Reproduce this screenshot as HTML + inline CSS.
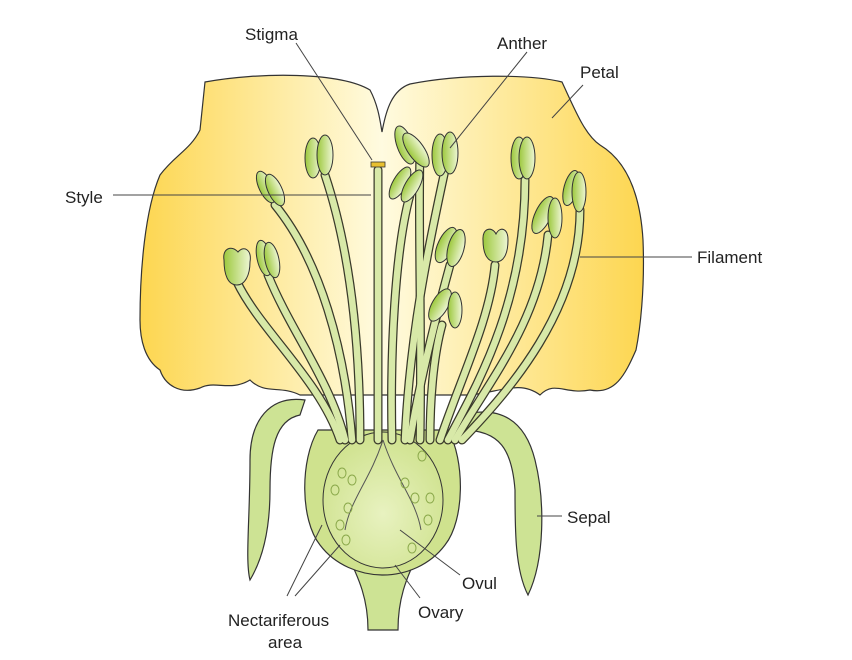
<!DOCTYPE html>
<html><head><meta charset="utf-8"><style>
html,body{margin:0;padding:0;background:#fff}
svg{display:block}
text{font-family:"Liberation Sans",sans-serif;font-size:17px;fill:#222}
</style></head><body>
<svg width="852" height="660" viewBox="0 0 852 660" xmlns="http://www.w3.org/2000/svg">
<defs>
<linearGradient id="pet" x1="0" x2="1" y1="0" y2="0">
<stop offset="0" stop-color="#fdd650"/><stop offset="0.48" stop-color="#fffbe0"/><stop offset="1" stop-color="#fdd650"/>
</linearGradient>
<linearGradient id="anth" x1="0" x2="1"><stop offset="0" stop-color="#9cc83c"/><stop offset="1" stop-color="#eef6d4"/></linearGradient>
<radialGradient id="ov" cx="0.5" cy="0.6" r="0.6"><stop offset="0" stop-color="#e8f2c0"/><stop offset="1" stop-color="#cfe28e"/></radialGradient>
</defs>
<!-- petals -->
<path d="M205,82 C260,72 340,72 370,90 C378,105 380,120 382,132 C386,110 392,90 410,84 C460,74 530,74 562,82 C575,110 585,135 600,145 C625,160 640,190 643,240 C645,290 640,330 636,350 C625,375 615,395 590,390 C565,395 555,380 540,395 C520,380 500,392 470,395 L300,395 C280,385 265,395 250,380 C230,392 215,380 200,388 C180,395 165,385 160,370 C145,360 140,340 140,320 C140,270 145,210 160,175 C175,155 190,150 200,130 Z" fill="url(#pet)" stroke="#333" stroke-width="1.2"/>
<!-- sepals -->
<path d="M305,400 C270,395 250,420 250,460 C250,520 245,560 250,580 C262,560 270,530 270,490 C270,450 275,420 300,415 Z" fill="#cde394" stroke="#333" stroke-width="1.2"/>
<path d="M462,415 C500,405 525,420 535,460 C545,500 545,560 528,595 C515,570 515,530 515,490 C512,450 500,430 462,430 Z" fill="#cde394" stroke="#333" stroke-width="1.2"/>
<!-- stem -->
<path d="M345,550 C360,580 368,600 368,630 L398,630 C398,600 405,580 420,550 Z" fill="#cde394" stroke="#333" stroke-width="1.2"/>
<!-- receptacle -->
<path d="M318,430 C300,460 300,520 320,545 C335,565 360,575 383,575 C406,575 430,565 445,545 C465,520 465,460 448,430 Z" fill="#cfe28e" stroke="#333" stroke-width="1.2"/>
<ellipse cx="383" cy="500" rx="60" ry="68" fill="url(#ov)" stroke="#333" stroke-width="1"/>
<path d="M383,440 C370,480 350,500 345,530 M383,440 C396,480 416,500 421,530" fill="none" stroke="#555" stroke-width="1"/>
<g fill="none" stroke="#8aa84a" stroke-width="1">
<ellipse cx="342" cy="473" rx="4" ry="5"/><ellipse cx="352" cy="480" rx="4" ry="5"/><ellipse cx="335" cy="490" rx="4" ry="5"/><ellipse cx="348" cy="508" rx="4" ry="5"/><ellipse cx="340" cy="525" rx="4" ry="5"/><ellipse cx="346" cy="540" rx="4" ry="5"/>
<ellipse cx="422" cy="456" rx="4" ry="5"/><ellipse cx="405" cy="483" rx="4" ry="5"/><ellipse cx="415" cy="498" rx="4" ry="5"/><ellipse cx="430" cy="498" rx="4" ry="5"/><ellipse cx="428" cy="520" rx="4" ry="5"/><ellipse cx="412" cy="548" rx="4" ry="5"/>
</g>
<!-- filaments -->
<g fill="none" stroke-linecap="round">
<g stroke="#3a3a2a" stroke-width="9">
<path d="M340,440 C320,380 260,330 237,282"/>
<path d="M345,440 C330,380 290,330 268,275"/>
<path d="M352,440 C345,350 320,260 275,205"/>
<path d="M360,440 C360,340 350,250 325,175"/>
<path d="M378,440 L378,170"/>
<path d="M392,440 C390,350 395,250 410,195"/>
<path d="M420,440 C422,330 418,230 420,150"/>
<path d="M405,440 C410,330 430,240 445,170"/>
<path d="M410,440 C420,380 435,320 450,265"/>
<path d="M430,440 C430,390 435,350 442,325"/>
<path d="M440,440 C460,380 490,320 495,265"/>
<path d="M448,440 C480,380 525,300 525,180"/>
<path d="M455,440 C490,380 540,320 548,235"/>
<path d="M462,440 C510,390 580,310 580,210"/>
</g>
<g stroke="#d8e9a8" stroke-width="6.5">
<path d="M340,440 C320,380 260,330 237,282"/>
<path d="M345,440 C330,380 290,330 268,275"/>
<path d="M352,440 C345,350 320,260 275,205"/>
<path d="M360,440 C360,340 350,250 325,175"/>
<path d="M378,440 L378,170"/>
<path d="M392,440 C390,350 395,250 410,195"/>
<path d="M420,440 C422,330 418,230 420,150"/>
<path d="M405,440 C410,330 430,240 445,170"/>
<path d="M410,440 C420,380 435,320 450,265"/>
<path d="M430,440 C430,390 435,350 442,325"/>
<path d="M440,440 C460,380 490,320 495,265"/>
<path d="M448,440 C480,380 525,300 525,180"/>
<path d="M455,440 C490,380 540,320 548,235"/>
<path d="M462,440 C510,390 580,310 580,210"/>
</g>
</g>
<!-- style top -->
<rect x="371" y="162" width="14" height="5" fill="#e8c030" stroke="#333" stroke-width="0.8"/>
<!-- anthers -->
<g fill="url(#anth)" stroke="#333" stroke-width="1">
<path d="M224,260 C222,248 232,245 238,252 C244,245 252,250 250,262 C250,275 245,285 237,285 C228,285 224,275 224,260 Z"/>
<ellipse cx="264" cy="258" rx="7" ry="18" transform="rotate(-12 264 258)"/><ellipse cx="272" cy="260" rx="7" ry="18" transform="rotate(-12 272 260)"/>
<ellipse cx="266" cy="187" rx="7" ry="17" transform="rotate(-25 266 187)"/><ellipse cx="275" cy="190" rx="7" ry="17" transform="rotate(-25 275 190)"/>
<ellipse cx="313" cy="158" rx="8" ry="20"/><ellipse cx="325" cy="155" rx="8" ry="20"/>
<ellipse cx="405" cy="145" rx="8" ry="20" transform="rotate(-20 405 145)"/><ellipse cx="416" cy="150" rx="8" ry="20" transform="rotate(-35 416 150)"/>
<ellipse cx="400" cy="183" rx="7" ry="18" transform="rotate(30 400 183)"/><ellipse cx="412" cy="186" rx="7" ry="18" transform="rotate(30 412 186)"/>
<ellipse cx="440" cy="155" rx="8" ry="21"/><ellipse cx="450" cy="153" rx="8" ry="21"/>
<ellipse cx="446" cy="245" rx="8" ry="19" transform="rotate(25 446 245)"/><ellipse cx="456" cy="248" rx="8" ry="19" transform="rotate(15 456 248)"/>
<ellipse cx="440" cy="305" rx="8" ry="18" transform="rotate(30 440 305)"/><ellipse cx="455" cy="310" rx="7" ry="18"/>
<path d="M483,240 C482,228 492,226 496,234 C500,226 508,228 508,240 C508,255 503,262 496,262 C488,262 483,255 483,240 Z"/>
<ellipse cx="519" cy="158" rx="8" ry="21"/><ellipse cx="527" cy="158" rx="8" ry="21"/>
<ellipse cx="543" cy="215" rx="8" ry="20" transform="rotate(25 543 215)"/><ellipse cx="555" cy="218" rx="7" ry="20"/>
<ellipse cx="571" cy="188" rx="7" ry="18" transform="rotate(15 571 188)"/><ellipse cx="579" cy="192" rx="7" ry="20"/>
</g>
<!-- label lines -->
<g stroke="#444" stroke-width="1" fill="none">
<path d="M296,43 L372,160"/>
<path d="M527,52 L450,148"/>
<path d="M583,85 L552,118"/>
<path d="M113,195 L371,195"/>
<path d="M580,257 L692,257"/>
<path d="M537,516 L562,516"/>
<path d="M460,575 L400,530"/>
<path d="M420,598 L395,565"/>
<path d="M287,596 L322,525 M295,596 L340,545"/>
</g>
<text x="245" y="40">Stigma</text>
<text x="497" y="49">Anther</text>
<text x="580" y="78">Petal</text>
<text x="65" y="203">Style</text>
<text x="697" y="263">Filament</text>
<text x="567" y="523">Sepal</text>
<text x="462" y="589">Ovul</text>
<text x="418" y="618">Ovary</text>
<text x="228" y="626">Nectariferous</text>
<text x="268" y="648">area</text>
</svg>
</body></html>
